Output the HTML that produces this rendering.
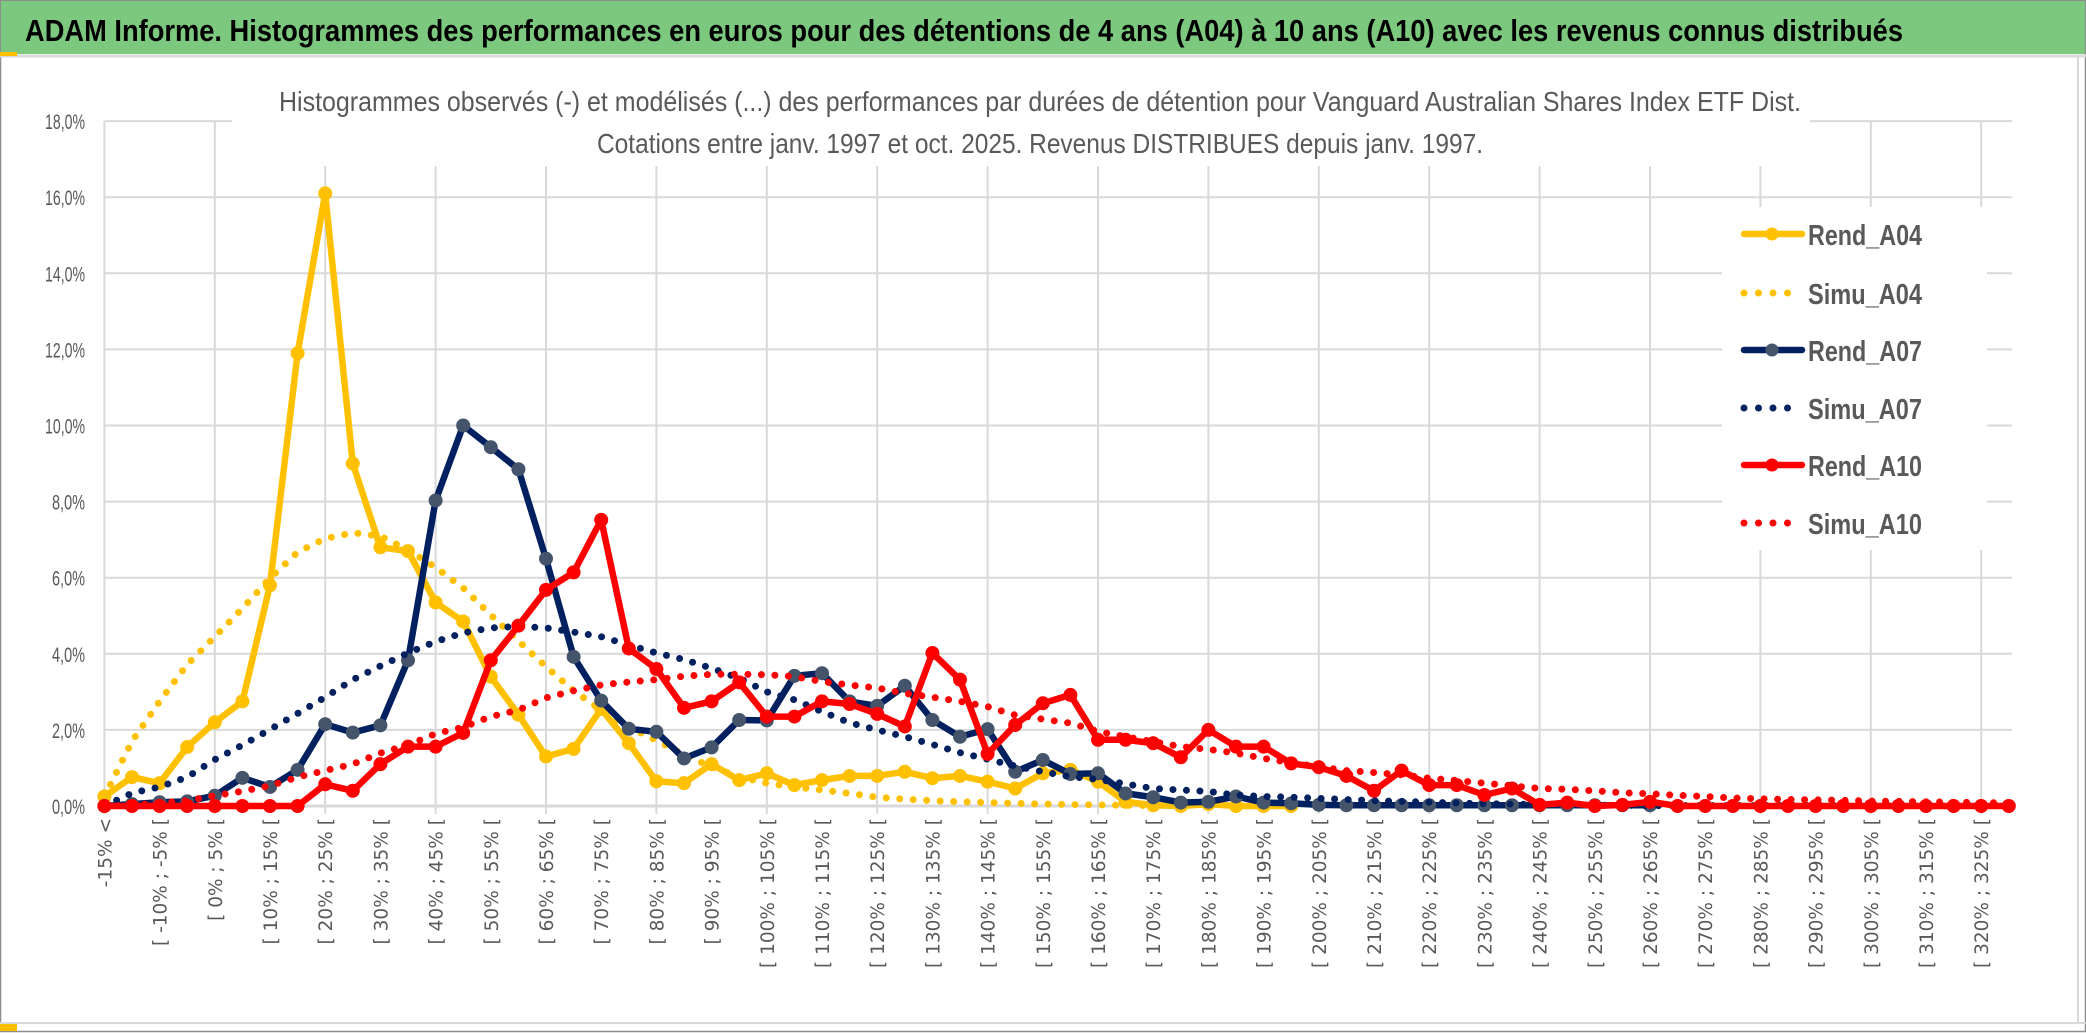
<!DOCTYPE html>
<html><head><meta charset="utf-8"><style>
html,body{margin:0;padding:0;background:#fff;}
svg{display:block;}
</style></head><body>
<svg id="chart" width="2086" height="1033" viewBox="0 0 2086 1033" xmlns="http://www.w3.org/2000/svg">
<rect x="0" y="0" width="2086" height="1033" fill="#fff"/>
<rect x="0.5" y="0.5" width="2085" height="1031" fill="none" stroke="#8c8c8c" stroke-width="1.5"/>
<rect x="1" y="1" width="2084" height="53" fill="#7dc87f"/>
<line x1="0" y1="56" x2="2086" y2="56" stroke="#d9d9d9" stroke-width="3"/>
<rect x="0" y="52" width="17" height="4" fill="#ffc000"/>
<line x1="2078" y1="56" x2="2078" y2="1023" stroke="#d9d9d9" stroke-width="2"/>
<line x1="0" y1="1023" x2="2086" y2="1023" stroke="#d9d9d9" stroke-width="2"/>
<rect x="0" y="1024" width="17" height="7" fill="#ffc000"/>
<text x="25" y="41" font-family="Liberation Sans, sans-serif" font-weight="bold" font-size="31" fill="#000" textLength="1878" lengthAdjust="spacingAndGlyphs">ADAM Informe. Histogrammes des performances en euros pour des détentions de 4 ans (A04) à 10 ans (A10) avec les revenus connus distribués</text>
<g id="grid"></g>
<g id="series"></g>
<g id="xlabels"></g>
<g id="ylabels"></g>
<rect x="232" y="80" width="1578" height="86" fill="#fff"/>
<text x="279" y="111" font-family="Liberation Sans, sans-serif" font-size="28" fill="#595959" textLength="1522" lengthAdjust="spacingAndGlyphs">Histogrammes observés (-) et modélisés (...) des performances par durées de détention pour Vanguard Australian Shares Index ETF Dist.</text>
<text x="597" y="153" font-family="Liberation Sans, sans-serif" font-size="28" fill="#595959" textLength="886" lengthAdjust="spacingAndGlyphs">Cotations entre janv. 1997 et oct. 2025. Revenus DISTRIBUES depuis janv. 1997.</text>
<g id="legend"></g>
</svg>
<script>
const categories = Array.from({length:70}, (_, i) => i === 0 ? "-15% <" : "[ " + ((i-1)*5-15) + "% ; " + ((i-1)*5-10) + "% [");
const yTicks = [0,2,4,6,8,10,12,14,16,18];
const yTickLabels = ["0,0%","2,0%","4,0%","6,0%","8,0%","10,0%","12,0%","14,0%","16,0%","18,0%"];
const rendA04 = [0.25,0.76,0.6,1.55,2.2,2.75,5.8,11.9,16.1,9.0, 6.8,6.7,5.35,4.85,3.4,2.4,1.3,1.5,2.55,1.65, 0.65,0.6,1.1,0.68,0.86,0.55,0.68,0.79,0.79,0.9, 0.73,0.79,0.64,0.46,0.86,0.95,0.64,0.11,0.02,0, 0.05,0,0,0];
const simuA04 = [0.25,1.7,2.75,3.72,4.45,5.19,5.99,6.67,7.03,7.18, 7.09,6.73,6.27,5.73,5.02,4.34,3.66,3.03,2.52,2.07, 1.73,1.34,1.03,0.77,0.6,0.5,0.42,0.33,0.23,0.18, 0.14,0.11,0.09,0.07,0.05,0.04,0.03,0.02,0.01,0.01];
const rendA07 = [0,0.05,0.1,0.12,0.27,0.74,0.5,0.95,2.15,1.93, 2.12,3.83,8.03,10.0,9.43,8.85,6.5,3.92,2.77,2.03, 1.95,1.25,1.54,2.26,2.25,3.42,3.49,2.75,2.63,3.16, 2.26,1.82,2.02,0.9,1.21,0.84,0.86,0.33,0.23,0.09, 0.11,0.25,0.09,0.07,0.03,0.02,0.02,0.02,0.02,0.02, 0.02,0.02,0.02,0.02,0.02,0.02,0.02];
const simuA07 = [0,0.34,0.5,0.76,1.22,1.6,2.01,2.43,2.86,3.32, 3.68,4.02,4.32,4.55,4.68,4.72,4.68,4.57,4.45,4.23, 4.02,3.85,3.62,3.36,3.0,2.79,2.48,2.19,2.0,1.82, 1.62,1.4,1.23,1.05,0.9,0.77,0.7,0.58,0.46,0.42, 0.38,0.29,0.25,0.23,0.2,0.17,0.14,0.12,0.1,0.08, 0.06,0.05,0.04,0.03,0.02,0.02,0.01,0.01,0.01,0.01, 0.01,0.01,0.01,0.01,0.01,0.01,0.01,0.01,0.01,0.01];
const rendA10 = [0,0,0,0,0,0,0,0,0.57,0.4, 1.1,1.56,1.56,1.92,3.83,4.74,5.68,6.14,7.52,4.14, 3.6,2.58,2.75,3.25,2.35,2.35,2.75,2.68,2.42,2.09, 4.02,3.32,1.37,2.13,2.7,2.92,1.74,1.74,1.65,1.28, 2.0,1.56,1.56,1.12,1.02,0.79,0.4,0.93,0.55,0.55, 0.29,0.46,0.03,0.09,0,0.03,0.11,0,0,0, 0,0,0,0,0,0,0,0,0,0];
const simuA10 = [0,0.02,0.08,0.14,0.27,0.39,0.53,0.76,0.93,1.1, 1.39,1.6,1.9,2.07,2.35,2.52,2.84,3.03,3.18,3.26, 3.32,3.41,3.46,3.46,3.45,3.4,3.27,3.18,3.1,2.96, 2.86,2.75,2.61,2.39,2.28,2.18,1.96,1.82,1.69,1.56, 1.49,1.39,1.25,1.14,1.03,0.93,0.88,0.82,0.73,0.67, 0.6,0.53,0.46,0.44,0.4,0.35,0.32,0.28,0.25,0.21, 0.19,0.17,0.16,0.15,0.13,0.12,0.11,0.1,0.09,0.08];
const seriesNames = ["Rend_A04","Simu_A04","Rend_A07","Simu_A07","Rend_A10","Simu_A10"];

const NS = "http://www.w3.org/2000/svg";
const X0 = 104.4, STEP = 27.6, Y0 = 806, YPER = 38.05, XRIGHT = 2012;
function xs(i){ return X0 + i*STEP; }
function ys(v){ return Y0 - v*YPER; }
function mk(tag, attrs, parent){ const e = document.createElementNS(NS, tag); for (const k in attrs) e.setAttribute(k, attrs[k]); parent.appendChild(e); return e; }

const grid = document.getElementById("grid");
for (let i = 0; i < categories.length; i += 4) {
  const l = mk("line", {x1:xs(i), x2:xs(i), y1:ys(18), y2:Y0+8, stroke:"#d9d9d9", "stroke-width":2}, grid);
  
  
}
const ylab = document.getElementById("ylabels");
yTicks.forEach((t, k) => {
  const l = mk("line", {x1:X0, x2:XRIGHT, y1:ys(t), y2:ys(t), stroke:"#d9d9d9", "stroke-width": t===0?3:2}, grid);
  
  
  const tx = mk("text", {x:85, y:ys(t)+8, "text-anchor":"end", "font-family":"Liberation Sans, sans-serif", "font-size":"21", fill:"#595959", textLength:"33", lengthAdjust:"spacingAndGlyphs"}, ylab);
  if (yTickLabels[k].length === 5) tx.setAttribute("textLength", "40");
  tx.textContent = yTickLabels[k];
  
  
});
const xlab = document.getElementById("xlabels");
categories.forEach((c, i) => {
  if (i % 2 !== 0) return;
  const x = xs(i) + 7, y = 818;
  const tx = mk("text", {x:x, y:y, transform:"rotate(-90 "+x+" "+y+")", "text-anchor":"end", "font-family":"DejaVu Sans, sans-serif", "font-size":"18.5", fill:"#595959"}, xlab);
  tx.textContent = c;
  
  
});

const ser = document.getElementById("series");
function pathOf(arr){ return arr.map((v,i)=> (i===0?"M":"L") + xs(i).toFixed(1) + " " + ys(v).toFixed(1)).join(" "); }
function drawSolid(arr, color, markerFill, name){
  const g = mk("g", {}, ser);
  
  
  mk("path", {d:pathOf(arr), fill:"none", stroke:color, "stroke-width":6.5, "stroke-linejoin":"round", "stroke-linecap":"round"}, g);
  arr.forEach((v,i) => {
    const c = mk("circle", {cx:xs(i), cy:ys(v), r:6.5, fill:markerFill, stroke:markerFill, "stroke-width":1}, g);
    
    
  });
}
function drawDotted(arr, color, name){
  const p = mk("path", {d:pathOf(arr), fill:"none", stroke:color, "stroke-width":7, "stroke-linecap":"round", "stroke-dasharray":"0 13.5"}, ser);
  
  
}
drawSolid(rendA04, "#ffc000", "#ffc000", "series-rend-a04");
drawDotted(simuA04, "#ffc000", "series-simu-a04");
drawSolid(rendA07, "#002060", "#44546a", "series-rend-a07");
drawDotted(simuA07, "#002060", "series-simu-a07");
drawSolid(rendA10, "#ff0000", "#ff0000", "series-rend-a10");
drawDotted(simuA10, "#ff0000", "series-simu-a10");

const leg = document.getElementById("legend");
const bg = mk("rect", {x:1722, y:207, width:265, height:343, fill:"#fff"}, leg);


const legY = [234, 293, 350, 408, 465, 523];
const legColors = ["#ffc000","#ffc000","#002060","#002060","#ff0000","#ff0000"];
const legMarker = ["#ffc000",null,"#44546a",null,"#ff0000",null];
seriesNames.forEach((n, k) => {
  const g = mk("g", {}, leg);
  
  
  const y = legY[k];
  if (legMarker[k]) {
    mk("line", {x1:1744, x2:1802, y1:y, y2:y, stroke:legColors[k], "stroke-width":6.5, "stroke-linecap":"round"}, g);
    mk("circle", {cx:1772, cy:y, r:6.5, fill:legMarker[k]}, g);
  } else {
    mk("line", {x1:1744, x2: k===5?1802:1790, y1:y, y2:y, stroke:legColors[k], "stroke-width":7, "stroke-linecap":"round", "stroke-dasharray":"0 14.5"}, g);
  }
  const t = mk("text", {x:1808, y:y+11, "font-family":"Liberation Sans, sans-serif", "font-weight":"bold", "font-size":"29", fill:"#595959", textLength:"114", lengthAdjust:"spacingAndGlyphs"}, g);
  t.textContent = n;
});
</script>
</body></html>
